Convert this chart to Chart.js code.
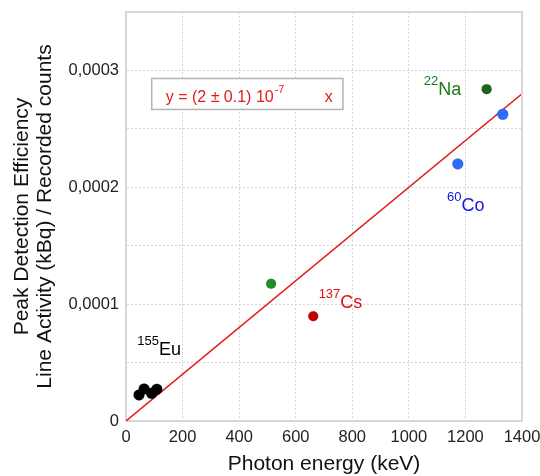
<!DOCTYPE html>
<html>
<head>
<meta charset="utf-8">
<script src="https://cdn.jsdelivr.net/npm/chart.js@4"></script>
<style>
  html, body { margin: 0; padding: 0; background: #fff; }
</style>
</head>
<body>
<canvas id="chart" width="540" height="476"></canvas>
<script>
// data (energy in keV, efficiency)
const euEnergy = [46, 64, 90, 109];
const euEff = [0.0000223, 0.0000274, 0.0000237, 0.0000272];
const annEnergy = [513];
const annEff = [0.0001174];
const csEnergy = [662];
const csEff = [0.0000897];
const naEnergy = [1275];
const naEff = [0.000284];
const coEnergy = [1173, 1332];
const coEff = [0.00022, 0.0002625];
const fitEnergy = [0, 1400];
const fitEff = [0, 0.00028];
const yTickLabels = ["0", "0,0001", "0,0002", "0,0003"];

const family = "'Liberation Sans', Arial, sans-serif";

function pts(xs, ys) {
  return xs.map((x, i) => ({ x: x, y: ys[i] }));
}

// isotope labels (position = left/baseline of the element symbol, in data units)
const isotopeLabels = [
  { mass: "155", el: "Eu", x: 40, y: 0.0000566, color: "#000000" },
  { mass: "137", el: "Cs", x: 681, y: 0.0000966, color: "#e01010" },
  { mass: "22", el: "Na", x: 1053, y: 0.0002794, color: "#1a7a1a" },
  { mass: "60", el: "Co", x: 1135, y: 0.0001794, color: "#1515e0" },
];

const labelPlugin = {
  id: "labels",
  afterDatasetsDraw(chart) {
    const { ctx, chartArea, scales } = chart;
    const x = scales.x, y = scales.y;
    ctx.save();

    // top + right frame
    ctx.strokeStyle = "#d6d6d6";
    ctx.lineWidth = 2;
    ctx.beginPath();
    ctx.moveTo(chartArea.left, chartArea.top);
    ctx.lineTo(chartArea.right, chartArea.top);
    ctx.lineTo(chartArea.right, chartArea.bottom);
    ctx.stroke();

    // isotope names with superscript mass numbers
    ctx.textAlign = "left";
    ctx.textBaseline = "alphabetic";
    isotopeLabels.forEach((l) => {
      const px = x.getPixelForValue(l.x);
      const py = y.getPixelForValue(l.y);
      ctx.fillStyle = l.color;
      ctx.font = "13px " + family;
      ctx.fillText(l.mass, px, py - 10);
      const w = ctx.measureText(l.mass).width;
      ctx.font = "18px " + family;
      ctx.fillText(l.el, px + w, py);
    });

    // fit equation box
    const bx = x.getPixelForValue(91);
    const by = y.getPixelForValue(0.0002931);
    const bw = x.getPixelForValue(767) - bx;
    const bh = y.getPixelForValue(0.0002666) - by;
    ctx.fillStyle = "#ffffff";
    ctx.fillRect(bx, by, bw, bh);
    ctx.strokeStyle = "#b4b4b4";
    ctx.lineWidth = 1.5;
    ctx.strokeRect(bx, by, bw, bh);

    ctx.fillStyle = "#e01c1c";
    ctx.font = "16px " + family;
    const main = "y = (2 \u00b1 0.1) 10";
    ctx.fillText(main, bx + 14, by + 24);
    const mw = ctx.measureText(main).width;
    ctx.font = "11px " + family;
    ctx.fillText("-7", bx + 15 + mw, by + 15);
    ctx.font = "16px " + family;
    ctx.fillText("x", bx + 173, by + 24);

    ctx.restore();
  },
};

const tickFont = { family: family, size: 16.5 };

new Chart(document.getElementById("chart"), {
  type: "scatter",
  data: {
    datasets: [
      { data: pts(euEnergy, euEff), backgroundColor: "#000000", pointRadius: 5.5, order: 0 },
      { data: pts(annEnergy, annEff), backgroundColor: "#1f8f1f", pointRadius: 5, order: 0 },
      { data: pts(csEnergy, csEff), backgroundColor: "#c40000", pointRadius: 5, order: 0 },
      { data: pts(naEnergy, naEff), backgroundColor: "#196619", pointRadius: 5, order: 0 },
      { data: pts(coEnergy, coEff), backgroundColor: "#2b6cff", pointRadius: 5.5, order: 0 },
      {
        type: "line",
        data: pts(fitEnergy, fitEff),
        borderColor: "#e41a1a",
        borderWidth: 1.5,
        pointRadius: 0,
        fill: false,
        order: 1,
      },
    ],
  },
  options: {
    responsive: false,
    animation: false,
    events: [],
    layout: { padding: { top: 12, right: 18, left: 0, bottom: 0 } },
    plugins: {
      legend: { display: false },
      tooltip: { enabled: false },
    },
    scales: {
      x: {
        type: "linear",
        min: 0,
        max: 1400,
        ticks: {
          stepSize: 200,
          padding: 7,
          color: "#222",
          font: tickFont,
          callback: (value) => String(value),
        },
        grid: { color: "#d4d4d4", lineWidth: 1, drawTicks: false },
        border: { display: true, color: "#d6d6d6", width: 2, dash: [2, 2] },
        title: {
          display: true,
          text: "Photon energy (keV)",
          color: "#111",
          font: { family: family, size: 21, lineHeight: 1.1 },
          padding: { top: 4, bottom: 0 },
        },
        afterFit(scale) {
          scale.height = 55;
          scale.paddingLeft = 0;
          scale.paddingRight = 0;
        },
      },
      y: {
        type: "linear",
        min: 0,
        max: 0.00035,
        ticks: {
          stepSize: 0.00005,
          padding: 7,
          color: "#222",
          font: tickFont,
          callback: (value, index) => (index % 2 === 0 ? yTickLabels[index / 2] : ""),
        },
        grid: { color: "#d4d4d4", lineWidth: 1, drawTicks: false },
        border: { display: true, color: "#d6d6d6", width: 2, dash: [2, 2] },
        title: {
          display: true,
          text: ["Peak Detection Efficiency", "Line Activity (kBq) / Recorded counts"],
          color: "#111",
          font: { family: family, size: 21, lineHeight: 1.1 },
          padding: { top: 11, bottom: 0 },
        },
        afterFit(scale) {
          scale.width = 126;
          scale.paddingTop = 0;
          scale.paddingBottom = 0;
        },
      },
    },
  },
  plugins: [labelPlugin],
});
</script>
</body>
</html>
